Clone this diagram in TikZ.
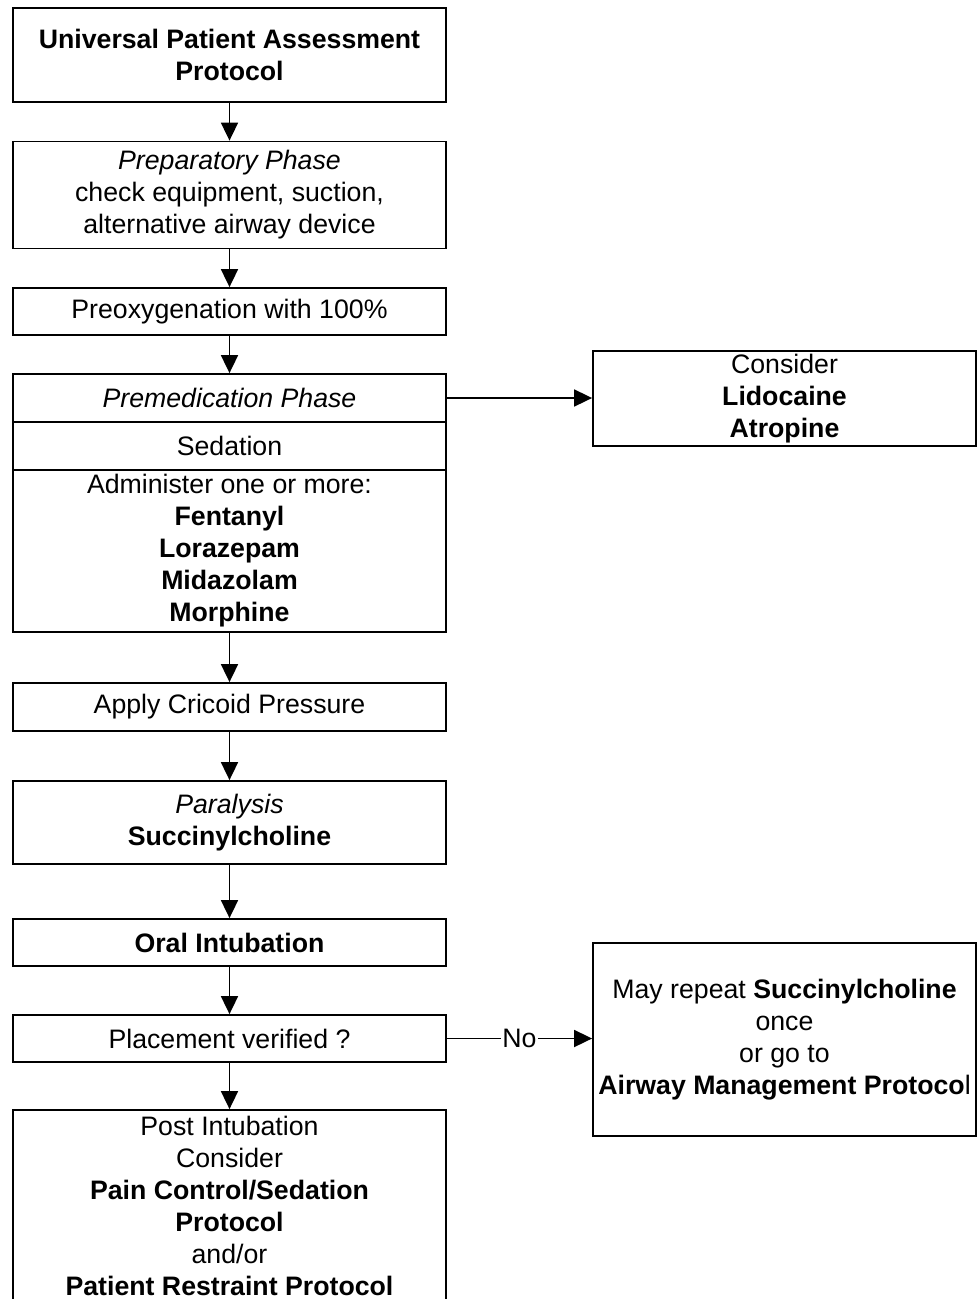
\documentclass[tikz,border=0pt]{standalone}
\usepackage{fontspec}
\setmainfont{Liberation Sans}
\usetikzlibrary{arrows.meta}
\begin{document}
\begin{tikzpicture}[x=1pt,y=-1pt,
  every node/.style={font=\fontsize{26.7}{32}\selectfont, align=center, inner sep=0pt},
  box/.style={draw, line width=1.8pt, minimum width=433pt},
  sidebox/.style={draw, line width=1.8pt, minimum width=383pt},
  flow/.style={line width=1.8pt, -{Triangle[length=18pt,width=17pt]}}]
\useasboundingbox (0,0) rectangle (980,1299);

% main column
\node[box, minimum height=94pt]  (upa)   at (229.5,55)  {\textbf{Universal Patient Assessment}\\\textbf{Protocol}};
\node[box, minimum height=107pt] (prep)  at (229.5,195) {\textit{Preparatory Phase}\\check equipment, suction,\\alternative airway device};
\node[box, minimum height=47pt]  (preox) at (229.5,311.5) {Preoxygenation with 100\%};
\node[box, minimum height=48pt]  (prem)  at (229.5,398) {\textit{Premedication Phase}};
\node[box, minimum height=48pt]  (sed)   at (229.5,446) {Sedation};
\node[box, minimum height=162pt] (admin) at (229.5,551) {Administer one or more:\\\textbf{Fentanyl}\\\textbf{Lorazepam}\\\textbf{Midazolam}\\\textbf{Morphine}};
\node[box, minimum height=48pt]  (cric)  at (229.5,707) {Apply Cricoid Pressure};
\node[box, minimum height=83pt]  (para)  at (229.5,822.5) {\textit{Paralysis}\\\textbf{Succinylcholine}};
\node[box, minimum height=47pt]  (oral)  at (229.5,942.5) {\textbf{Oral Intubation}};
\node[box, minimum height=47pt]  (place) at (229.5,1038.5) {Placement verified ?};
\node[box, minimum height=192pt] (post)  at (229.5,1206) {Post Intubation\\Consider\\\textbf{Pain Control/Sedation}\\\textbf{Protocol}\\and/or\\\textbf{Patient Restraint Protocol}};

% side boxes
\node[sidebox, minimum height=95pt]  (cons)  at (784.5,398.5) {Consider\\\textbf{Lidocaine}\\\textbf{Atropine}};
\node[sidebox, minimum height=193pt] (rep)   at (784.5,1039.5) {May repeat \textbf{Succinylcholine}\\once\\or go to\\\textbf{Airway Management Protoco}l};

% connectors
\draw[flow] (upa) -- (prep);
\draw[flow] (prep) -- (preox);
\draw[flow] (preox) -- (prem);
\draw[flow] (admin) -- (cric);
\draw[flow] (cric) -- (para);
\draw[flow] (para) -- (oral);
\draw[flow] (oral) -- (place);
\draw[flow] (place) -- (post);
\draw[flow] (prem.east) -- (prem.east -| cons.west);
\draw[flow] (place.east) -- node[fill=white, inner sep=1pt] {No} (place.east -| rep.west);
\end{tikzpicture}
\end{document}
